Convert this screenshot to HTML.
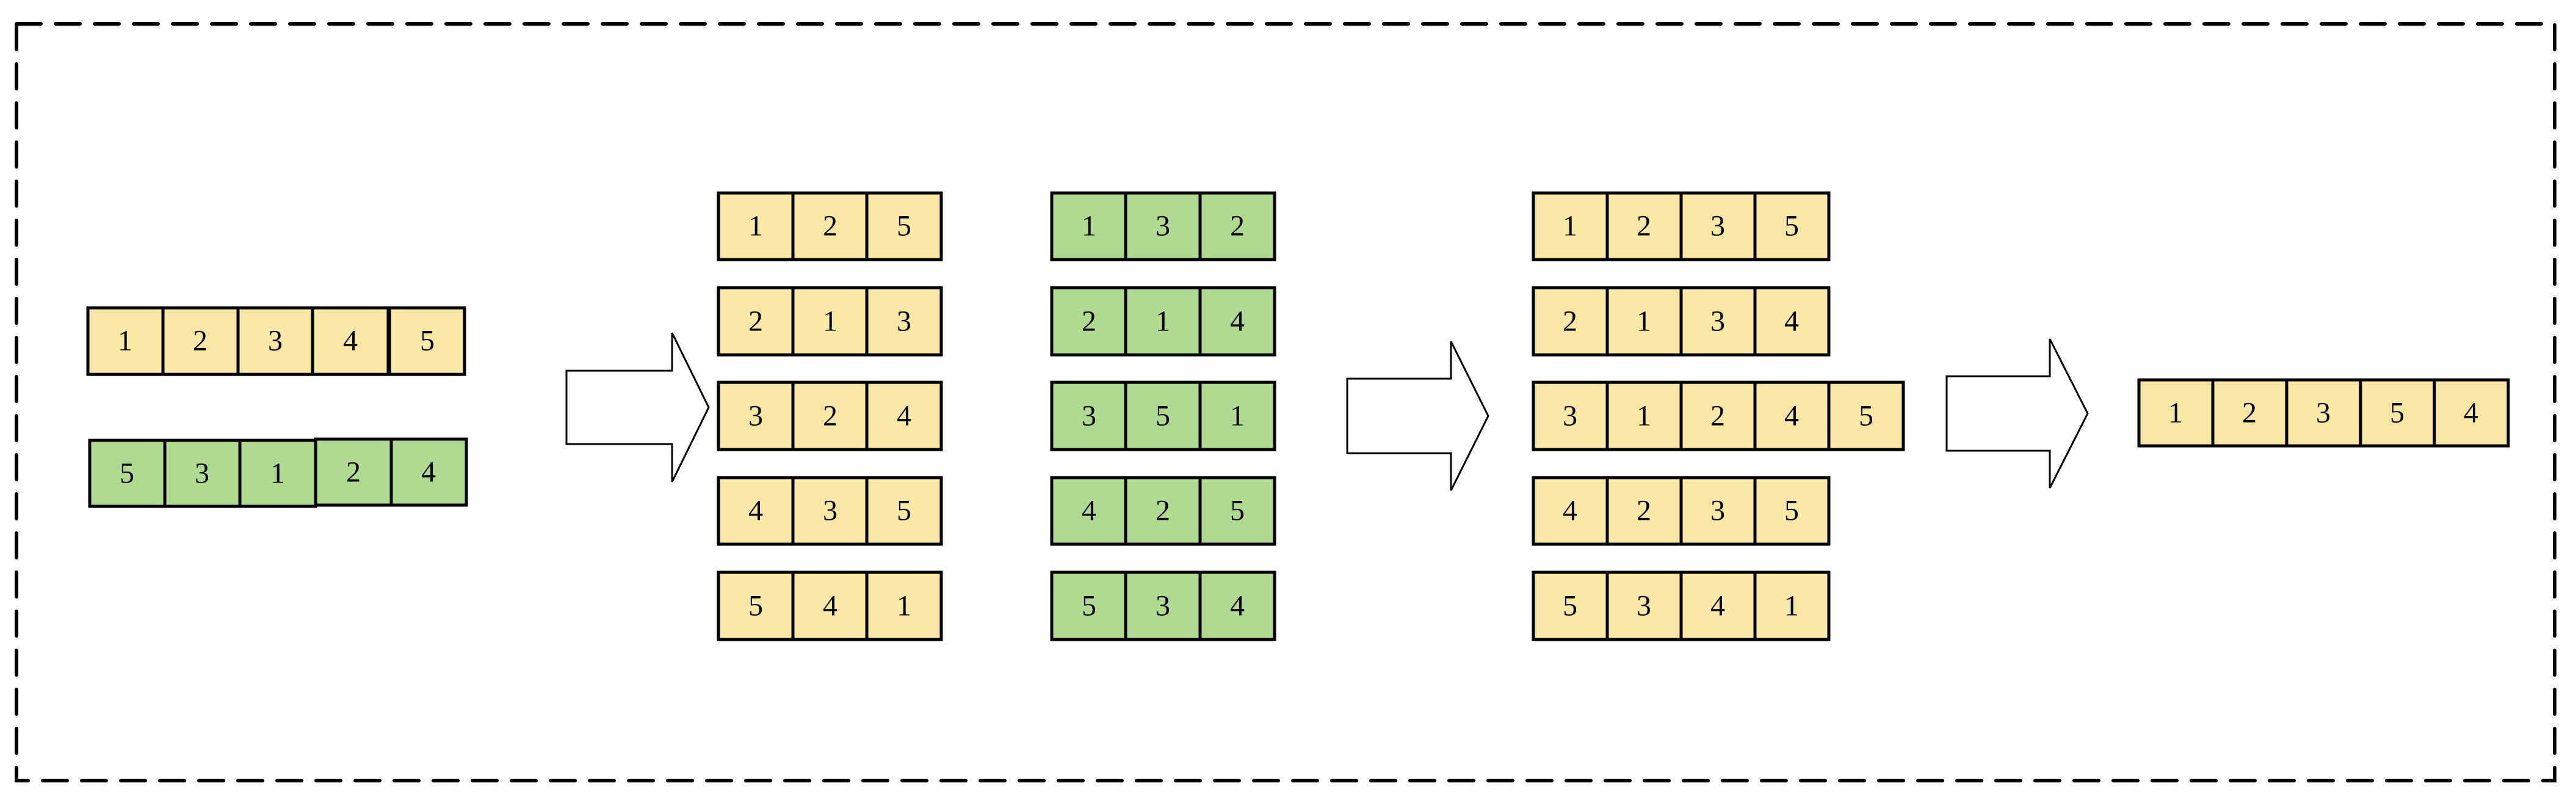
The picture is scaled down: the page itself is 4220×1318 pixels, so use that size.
<!DOCTYPE html>
<html><head><meta charset="utf-8"><style>
html,body{margin:0;padding:0;background:#fff;}
svg{display:block;}
text{font-family:"Liberation Serif",serif;font-size:48px;fill:#000;text-anchor:middle;dominant-baseline:central;}
</style></head><body>
<svg width="4220" height="1318" viewBox="0 0 4220 1318" xmlns="http://www.w3.org/2000/svg">
<rect x="0" y="0" width="4220" height="1318" fill="#fff"/>
<rect x="27" y="39" width="4158" height="1239" fill="none" stroke="#000" stroke-width="6" stroke-dasharray="40 24" stroke-linecap="round"/>

<g id="cells" stroke="#000" stroke-width="5">
<!-- left yellow row -->
<g fill="#f9e8a5">
<rect x="144" y="504" width="123" height="109"/><rect x="267" y="504" width="123" height="109"/><rect x="390" y="504" width="122" height="109"/><rect x="512" y="504" width="124" height="109"/><rect x="638" y="504" width="123" height="109"/>
</g>
<!-- left green row -->
<g fill="#b0da91">
<rect x="147" y="721" width="123" height="108"/><rect x="270" y="721" width="123" height="108"/><rect x="393" y="721" width="124" height="108"/><rect x="517" y="719" width="124" height="108"/><rect x="641" y="719" width="123" height="108"/>
</g>
</g>
<g>
<text x="205" y="558">1</text><text x="328" y="558">2</text><text x="451" y="558">3</text><text x="574" y="558">4</text><text x="700" y="558">5</text>
<text x="208" y="775">5</text><text x="331" y="775">3</text><text x="455" y="775">1</text><text x="579" y="773">2</text><text x="702" y="773">4</text>
</g>

<!-- arrows -->
<g fill="#fff" stroke="#000" stroke-width="3">
<polygon points="928,607 1101,607 1101,545 1161,667 1101,789 1101,727 928,727"/>
<polygon points="2207,620 2377,620 2377,559 2438,681 2377,803 2377,742 2207,742"/>
<polygon points="3189,616 3358,616 3358,555 3420,677 3358,799 3358,738 3189,738"/>
</g>

<!-- middle yellow column -->
<g stroke="#000" stroke-width="5" fill="#f9e8a5">
<rect x="1177" y="316" width="122" height="109"/><rect x="1299" y="316" width="121" height="109"/><rect x="1420" y="316" width="122" height="109"/>
<rect x="1177" y="471" width="122" height="110"/><rect x="1299" y="471" width="121" height="110"/><rect x="1420" y="471" width="122" height="110"/>
<rect x="1177" y="626" width="122" height="110"/><rect x="1299" y="626" width="121" height="110"/><rect x="1420" y="626" width="122" height="110"/>
<rect x="1177" y="782" width="122" height="109"/><rect x="1299" y="782" width="121" height="109"/><rect x="1420" y="782" width="122" height="109"/>
<rect x="1177" y="937" width="122" height="110"/><rect x="1299" y="937" width="121" height="110"/><rect x="1420" y="937" width="122" height="110"/>
</g>
<g>
<text x="1238" y="370">1</text><text x="1360" y="370">2</text><text x="1481" y="370">5</text>
<text x="1238" y="526">2</text><text x="1360" y="526">1</text><text x="1481" y="526">3</text>
<text x="1238" y="681">3</text><text x="1360" y="681">2</text><text x="1481" y="681">4</text>
<text x="1238" y="836">4</text><text x="1360" y="836">3</text><text x="1481" y="836">5</text>
<text x="1238" y="992">5</text><text x="1360" y="992">4</text><text x="1481" y="992">1</text>
</g>

<!-- middle green column -->
<g stroke="#000" stroke-width="5" fill="#b0da91">
<rect x="1723" y="316" width="121" height="109"/><rect x="1844" y="316" width="122" height="109"/><rect x="1966" y="316" width="122" height="109"/>
<rect x="1723" y="471" width="121" height="110"/><rect x="1844" y="471" width="122" height="110"/><rect x="1966" y="471" width="122" height="110"/>
<rect x="1723" y="626" width="121" height="110"/><rect x="1844" y="626" width="122" height="110"/><rect x="1966" y="626" width="122" height="110"/>
<rect x="1723" y="782" width="121" height="109"/><rect x="1844" y="782" width="122" height="109"/><rect x="1966" y="782" width="122" height="109"/>
<rect x="1723" y="937" width="121" height="110"/><rect x="1844" y="937" width="122" height="110"/><rect x="1966" y="937" width="122" height="110"/>
</g>
<g>
<text x="1784" y="370">1</text><text x="1905" y="370">3</text><text x="2027" y="370">2</text>
<text x="1784" y="526">2</text><text x="1905" y="526">1</text><text x="2027" y="526">4</text>
<text x="1784" y="681">3</text><text x="1905" y="681">5</text><text x="2027" y="681">1</text>
<text x="1784" y="836">4</text><text x="1905" y="836">2</text><text x="2027" y="836">5</text>
<text x="1784" y="992">5</text><text x="1905" y="992">3</text><text x="2027" y="992">4</text>
</g>

<!-- right yellow column -->
<g stroke="#000" stroke-width="5" fill="#f9e8a5">
<rect x="2512" y="316" width="121" height="109"/><rect x="2633" y="316" width="121" height="109"/><rect x="2754" y="316" width="121" height="109"/><rect x="2875" y="316" width="121" height="109"/>
<rect x="2512" y="471" width="121" height="110"/><rect x="2633" y="471" width="121" height="110"/><rect x="2754" y="471" width="121" height="110"/><rect x="2875" y="471" width="121" height="110"/>
<rect x="2512" y="626" width="121" height="110"/><rect x="2633" y="626" width="121" height="110"/><rect x="2754" y="626" width="121" height="110"/><rect x="2875" y="626" width="121" height="110"/><rect x="2996" y="626" width="122" height="110"/>
<rect x="2512" y="782" width="121" height="109"/><rect x="2633" y="782" width="121" height="109"/><rect x="2754" y="782" width="121" height="109"/><rect x="2875" y="782" width="121" height="109"/>
<rect x="2512" y="937" width="121" height="110"/><rect x="2633" y="937" width="121" height="110"/><rect x="2754" y="937" width="121" height="110"/><rect x="2875" y="937" width="121" height="110"/>
</g>
<g>
<text x="2572" y="370">1</text><text x="2693" y="370">2</text><text x="2814" y="370">3</text><text x="2935" y="370">5</text>
<text x="2572" y="526">2</text><text x="2693" y="526">1</text><text x="2814" y="526">3</text><text x="2935" y="526">4</text>
<text x="2572" y="681">3</text><text x="2693" y="681">1</text><text x="2814" y="681">2</text><text x="2935" y="681">4</text><text x="3057" y="681">5</text>
<text x="2572" y="836">4</text><text x="2693" y="836">2</text><text x="2814" y="836">3</text><text x="2935" y="836">5</text>
<text x="2572" y="992">5</text><text x="2693" y="992">3</text><text x="2814" y="992">4</text><text x="2935" y="992">1</text>
</g>

<!-- final row -->
<g stroke="#000" stroke-width="5" fill="#f9e8a5">
<rect x="3504" y="622" width="121" height="108"/><rect x="3625" y="622" width="121" height="108"/><rect x="3746" y="622" width="121" height="108"/><rect x="3867" y="622" width="121" height="108"/><rect x="3988" y="622" width="121" height="108"/>
</g>
<g>
<text x="3564" y="676">1</text><text x="3685" y="676">2</text><text x="3806" y="676">3</text><text x="3927" y="676">5</text><text x="4048" y="676">4</text>
</g>
</svg>
</body></html>
